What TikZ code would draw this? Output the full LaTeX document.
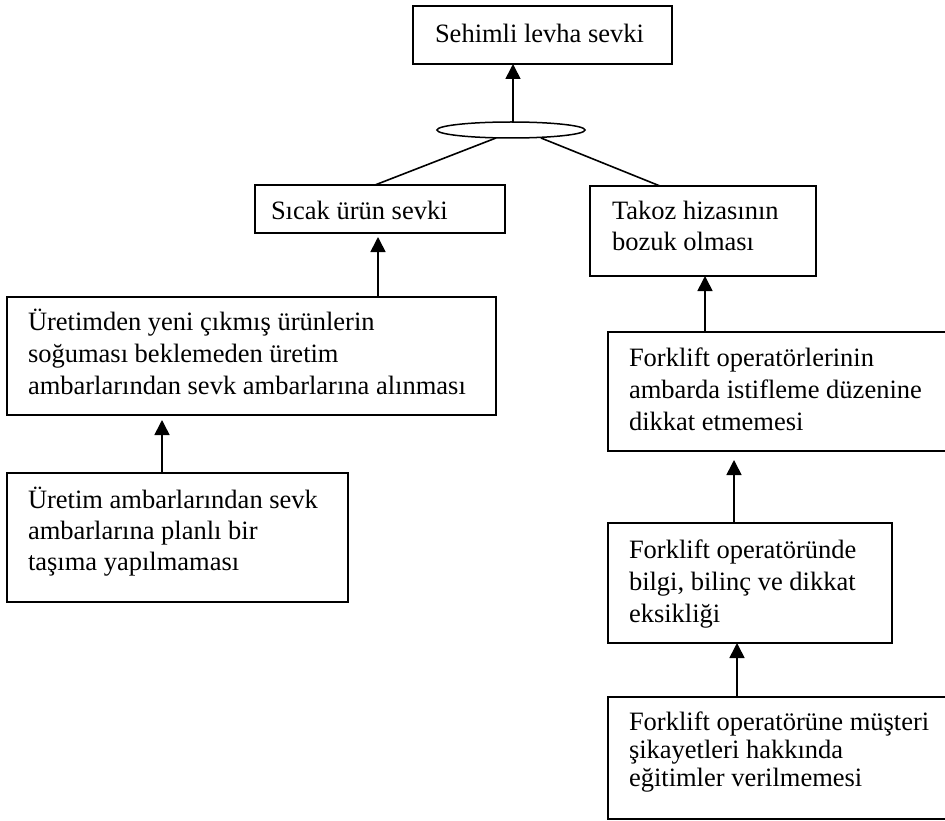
\documentclass[tikz,border=0pt]{standalone}
\usepackage{fontspec}
\setmainfont{Liberation Serif}
\usetikzlibrary{arrows.meta,shapes.geometric,calc}

% multi-line box text; first line baseline is the node's base
\newcommand{\boxtext}[2]{{\fontsize{26.5}{#1}\selectfont\begin{tabular}[t]{@{}l@{}}#2\end{tabular}}}

\tikzset{
  box/.style={draw, line width=1.5pt, rectangle, inner sep=0pt, outer sep=0pt, anchor=north west},
  txt/.style={anchor=base west, inner sep=0pt, outer sep=0pt},
  arr/.style={line width=1.6pt, -{Triangle[width=15pt,length=15pt]}},
  link/.style={line width=1.6pt},
  junction/.style={draw, line width=1.5pt, ellipse, inner sep=0pt, outer sep=0pt,
                   minimum width=148pt, minimum height=16pt}
}

\begin{document}
\begin{tikzpicture}[x=1pt,y=-1pt]
  \fill[white] (0,0) rectangle (945,821);
  \useasboundingbox (0,0) rectangle (945,821);

  % boxes
  \node[box, minimum width=259pt, minimum height=58pt]  (A) at (413,6)   {};
  \node[box, minimum width=250pt, minimum height=48pt]  (B) at (255,185) {};
  \node[box, minimum width=226pt, minimum height=90pt]  (D) at (590,186) {};
  \node[box, minimum width=489pt, minimum height=118pt] (C) at (7,297)   {};
  \node[box, minimum width=342pt, minimum height=119pt] (E) at (608,332) {};
  \node[box, minimum width=341pt, minimum height=129pt] (F) at (7,473)   {};
  \node[box, minimum width=284pt, minimum height=120pt] (G) at (608,523) {};
  \node[box, minimum width=342pt, minimum height=122pt] (H) at (608,697) {};

  % junction
  \node[junction] (J) at (511,130) {};

  % texts
  \node[txt] (At) at (435,43)  {\boxtext{32}{Sehimli levha sevki}};
  \node[txt] (Bt) at (271,219) {\boxtext{32}{Sıcak ürün sevki}};
  \node[txt] (Dt) at (612,219) {\boxtext{32}{Takoz hizasının\\bozuk olması}};
  \node[txt] (Ct) at (28,330)  {\boxtext{32}{Üretimden yeni çıkmış ürünlerin\\soğuması beklemeden üretim\\ambarlarından sevk ambarlarına alınması}};
  \node[txt] (Et) at (629,366) {\boxtext{32}{Forklift operatörlerinin\\ambarda istifleme düzenine\\dikkat etmemesi}};
  \node[txt] (Ft) at (28,508)  {\boxtext{31}{Üretim ambarlarından sevk\\ambarlarına planlı bir\\taşıma yapılmaması}};
  \node[txt] (Gt) at (629,558) {\boxtext{32}{Forklift operatöründe\\bilgi, bilinç ve dikkat\\eksikliği}};
  \node[txt] (Ht) at (629,730) {\boxtext{28}{Forklift operatörüne müşteri\\şikayetleri hakkında\\eğitimler verilmemesi}};

  % connectors
  \draw[arr] ([xshift=2pt]J.north) -- ([xshift=100pt]A.south west);
  \draw[link] ([xshift=-15pt]J.south) -- ([xshift=120pt]B.north west);
  \draw[link] ([xshift=30pt]J.south) -- ([xshift=70pt]D.north west);
  \draw[arr] ([xshift=371pt]C.north west) -- ([xshift=123pt,yshift=-4pt]B.south west);
  \draw[arr] ([xshift=97pt]E.north west) -- ([xshift=115pt]D.south west);
  \draw[arr] ([xshift=155pt]F.north west) -- ([xshift=155pt,yshift=-5pt]C.south west);
  \draw[arr] ([xshift=126pt]G.north west) -- ([xshift=126pt,yshift=-9pt]E.south west);
  \draw[arr] ([xshift=129pt]H.north west) -- ([xshift=129pt]G.south west);
\end{tikzpicture}
\end{document}
